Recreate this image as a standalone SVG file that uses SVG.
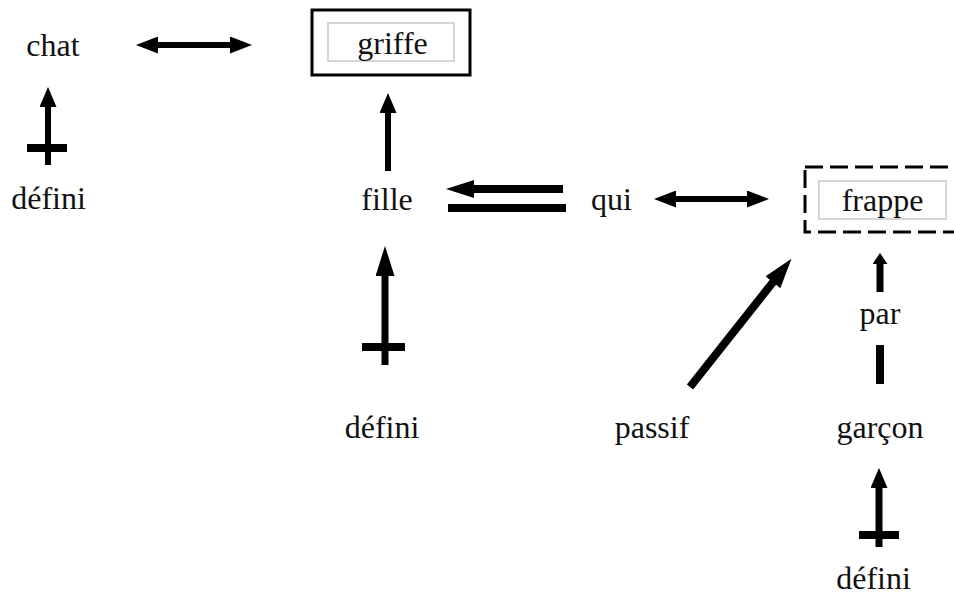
<svg xmlns="http://www.w3.org/2000/svg" width="954" height="596" viewBox="0 0 954 596">
  <style>
    .t { font-family: "Liberation Serif", "Times New Roman", serif; font-size: 32px; fill: #111; text-anchor: middle; }
    .box { fill: none; stroke: #000; stroke-width: 3; }
    .dash { stroke-dasharray: 18 7; }
    .inner { fill: none; stroke: #c8c8c8; stroke-width: 1.5; }
    .c { stroke: #000; fill: none; }
    .s6 { stroke-width: 6; }
    .s7 { stroke-width: 7; }
    .s8 { stroke-width: 8; }
  </style>
  <defs>
    <marker id="h22" markerUnits="userSpaceOnUse" markerWidth="22" markerHeight="17" refX="1" refY="8.5" orient="auto-start-reverse">
      <path d="M0,0 L22,8.5 L0,17 z" fill="#000"/>
    </marker>
    <marker id="h20" markerUnits="userSpaceOnUse" markerWidth="20" markerHeight="17" refX="1" refY="8.5" orient="auto-start-reverse">
      <path d="M0,0 L20,8.5 L0,17 z" fill="#000"/>
    </marker>
    <marker id="h28" markerUnits="userSpaceOnUse" markerWidth="28" markerHeight="18" refX="1" refY="9" orient="auto-start-reverse">
      <path d="M0,0 L28,9 L0,18 z" fill="#000"/>
    </marker>
    <marker id="h30" markerUnits="userSpaceOnUse" markerWidth="30" markerHeight="19" refX="1" refY="9.5" orient="auto-start-reverse">
      <path d="M0,0 L30,9.5 L0,19 z" fill="#000"/>
    </marker>
    <marker id="h10" markerUnits="userSpaceOnUse" markerWidth="11" markerHeight="15" refX="1" refY="7.5" orient="auto-start-reverse">
      <path d="M0,0 L11,7.5 L0,15 z" fill="#000"/>
    </marker>
  </defs>

  <g id="connectors">
    <!-- chat <-> griffe -->
    <line class="c s6" x1="157" y1="45" x2="231" y2="45" marker-start="url(#h22)" marker-end="url(#h22)"/>
    <!-- défini -> chat -->
    <line class="c s6" x1="48" y1="165" x2="48" y2="106" marker-end="url(#h20)"/>
    <line class="c s8" x1="27" y1="148" x2="67" y2="148"/>
    <!-- fille -> griffe -->
    <line class="c s6" x1="388" y1="171" x2="388" y2="112" marker-end="url(#h20)"/>
    <!-- qui -> fille (double) -->
    <line class="c s8" x1="563" y1="189" x2="473" y2="189" marker-end="url(#h28)"/>
    <line class="c s8" x1="448" y1="208" x2="566" y2="208"/>
    <!-- qui <-> frappe -->
    <line class="c s6" x1="675" y1="199" x2="748" y2="199" marker-start="url(#h22)" marker-end="url(#h22)"/>
    <!-- défini -> fille -->
    <line class="c s7" x1="385" y1="365" x2="385" y2="275" marker-end="url(#h30)"/>
    <line class="c s8" x1="362" y1="347" x2="405" y2="347"/>
    <!-- passif -> frappe -->
    <line class="c s8" x1="690" y1="387" x2="773.5" y2="281.5" marker-end="url(#h30)"/>
    <!-- par -> frappe -->
    <line class="c s7" x1="880" y1="292" x2="880" y2="263" marker-end="url(#h10)"/>
    <!-- garçon - par -->
    <line class="c s8" x1="880" y1="345" x2="880" y2="384"/>
    <!-- défini -> garçon -->
    <line class="c s7" x1="879" y1="547" x2="879" y2="487" marker-end="url(#h20)"/>
    <line class="c s8" x1="859" y1="535" x2="899" y2="535"/>
  </g>

  <g id="chat"><text class="t" x="53" y="56">chat</text></g>
  <g id="griffe">
    <rect class="box" x="312" y="10" width="158" height="65"/>
    <rect class="inner" x="328" y="23" width="126" height="38"/>
    <text class="t" x="392.5" y="54">griffe</text>
  </g>
  <g id="defini1"><text class="t" x="48.5" y="209">défini</text></g>
  <g id="fille"><text class="t" x="387" y="210">fille</text></g>
  <g id="qui"><text class="t" x="611.5" y="210">qui</text></g>
  <g id="frappe">
    <rect class="box dash" x="805" y="167" width="158" height="65"/>
    <rect class="inner" x="819" y="181" width="127" height="38"/>
    <text class="t" x="882.5" y="211">frappe</text>
  </g>
  <g id="par"><text class="t" x="880" y="324">par</text></g>
  <g id="defini2"><text class="t" x="382" y="438">défini</text></g>
  <g id="passif"><text class="t" x="652" y="438">passif</text></g>
  <g id="garcon"><text class="t" x="880" y="438">garçon</text></g>
  <g id="defini3"><text class="t" x="873.5" y="589">défini</text></g>
</svg>
